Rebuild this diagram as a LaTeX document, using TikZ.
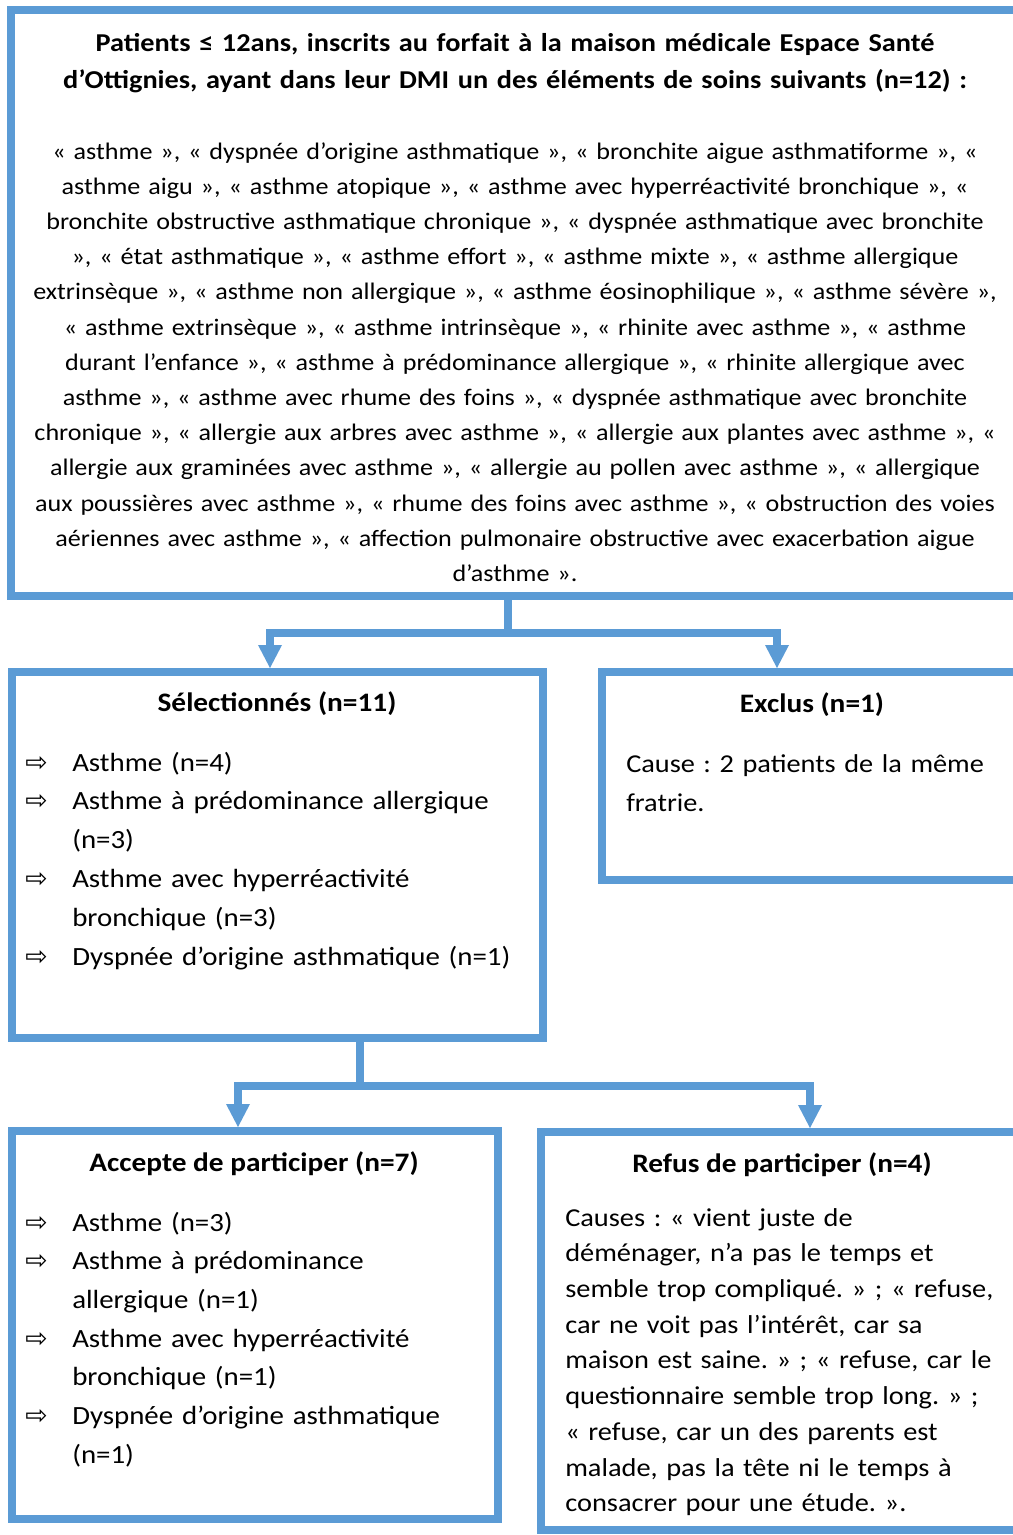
\documentclass[tikz,border=0pt]{standalone}
\usepackage{fontspec}
\setmainfont{Carlito}[FakeStretch=1.1]
\newfontfamily\symfont{DejaVu Sans}
\usetikzlibrary{arrows.meta}
\definecolor{boxblue}{HTML}{5B9BD5}
\newcommand\itm{\makebox[35.25pt][l]{\symfont\fontsize{20}{20}\selectfont ⇨}}
\newcommand\cnt{\hspace*{35.25pt}}
\frenchspacing
\begin{document}
\begin{tikzpicture}[x=0.75pt,y=-0.75pt,
  box/.style={draw=boxblue, line width=6pt, inner sep=0pt, rectangle},
  conn/.style={draw=boxblue, line width=6pt, line join=miter},
  tip/.tip={Triangle[length=17.25pt,width=18pt,line width=0pt]},
  ttl/.style={anchor=base, inner sep=0pt, font=\bfseries\fontsize{20}{27.75}\selectfont},
  txt/.style={inner sep=0pt, text width=#1, align=left},
]
\useasboundingbox (0,0) rectangle (1013,1535);
\clip (0,0) rectangle (1013,1535);
% boxes
\node[box, minimum width=758.6pt, minimum height=439.5pt] (top) at (516.25,303) {};
\node[box, minimum width=398.25pt, minimum height=274.5pt] (sel) at (277.5,855) {};
\node[box, minimum width=315pt, minimum height=156pt] (excl) at (812,776) {};
\node[box, minimum width=364.5pt, minimum height=291pt] (acc) at (255,1325) {};
\node[box, minimum width=360.75pt, minimum height=298.5pt] (ref) at (781.5,1331) {};
% connectors
\coordinate (j1) at (508,633);
\coordinate (a1) at (270,633);
\coordinate (a2) at (777,633);
\draw[conn] (j1 |- top.south) -- (j1);
\draw[conn, tip-tip] (a1 |- sel.north) -- (a1) -- (a2) -- (a2 |- excl.north);
\coordinate (j2) at (360,1086);
\coordinate (b1) at (238,1086);
\coordinate (b2) at (810,1086);
\draw[conn] (j2 |- sel.south) -- (j2);
\draw[conn, tip-tip] (b1 |- acc.north) -- (b1) -- (b2) -- (b2 |- ref.north);
% texts top
\node[anchor=base, inner sep=0pt, text width=750pt, align=center,
      font=\bfseries\fontsize{19.3}{27.75}\selectfont] (ttop) at (515,51)
 {Patients ≤ 12ans, inscrits au forfait à la maison médicale Espace Santé\\
  d’Ottignies, ayant dans leur DMI un des éléments de soins suivants (n=12) :};
\node[anchor=base, inner sep=0pt, text width=750pt, align=center,
      font=\fontsize{17.8}{26.4}\selectfont] (tbody) at (515,159)
 {« asthme », « dyspnée d’origine asthmatique », « bronchite aigue asthmatiforme », «\\
  asthme aigu », « asthme atopique », « asthme avec hyperréactivité bronchique », «\\
  bronchite obstructive asthmatique chronique », « dyspnée asthmatique avec bronchite\\
  », « état asthmatique », « asthme effort », « asthme mixte », « asthme allergique\\
  extrinsèque », « asthme non allergique », « asthme éosinophilique », « asthme sévère »,\\
  « asthme extrinsèque », « asthme intrinsèque », « rhinite avec asthme », « asthme\\
  durant l’enfance », « asthme à prédominance allergique », « rhinite allergique avec\\
  asthme », « asthme avec rhume des foins », « dyspnée asthmatique avec bronchite\\
  chronique », « allergie aux arbres avec asthme », « allergie aux plantes avec asthme », «\\
  allergie aux graminées avec asthme », « allergie au pollen avec asthme », « allergique\\
  aux poussières avec asthme », « rhume des foins avec asthme », « obstruction des voies\\
  aériennes avec asthme », « affection pulmonaire obstructive avec exacerbation aigue\\
  d’asthme ».};
% selected
\node[ttl] (tsel) at (277,711) {Sélectionnés (n=11)};
\node[txt=390pt, anchor=base west, font=\fontsize{19.7}{29.1}\selectfont] (isel) at (25,771)
 {\itm Asthme (n=4)\\
  \itm Asthme à prédominance allergique\\
  \cnt (n=3)\\
  \itm Asthme avec hyperréactivité\\
  \cnt bronchique (n=3)\\
  \itm Dyspnée d’origine asthmatique (n=1)};
% excluded
\node[ttl] (texcl) at (812,712) {Exclus (n=1)};
\node[txt=300pt, anchor=base west, font=\fontsize{19.3}{29.25}\selectfont] (iexcl) at (626,772)
 {Cause : 2 patients de la même\\ fratrie.};
% accepted
\node[ttl] (tacc) at (254,1171) {Accepte de participer (n=7)};
\node[txt=350pt, anchor=base west, font=\fontsize{19.7}{29}\selectfont] (iacc) at (25,1231)
 {\itm Asthme (n=3)\\
  \itm Asthme à prédominance\\
  \cnt allergique (n=1)\\
  \itm Asthme avec hyperréactivité\\
  \cnt bronchique (n=1)\\
  \itm Dyspnée d’origine asthmatique\\
  \cnt (n=1)};
% refused
\node[ttl] (tref) at (782,1172) {Refus de participer (n=4)};
\node[txt=350pt, anchor=base west, font=\fontsize{19.35}{26.8}\selectfont] (iref) at (565,1226)
 {Causes : « vient juste de\\
  déménager, n’a pas le temps et\\
  semble trop compliqué. » ; « refuse,\\
  car ne voit pas l’intérêt, car sa\\
  maison est saine. » ; « refuse, car le\\
  questionnaire semble trop long. » ;\\
  « refuse, car un des parents est\\
  malade, pas la tête ni le temps à\\
  consacrer pour une étude. ».};
\end{tikzpicture}
\end{document}
